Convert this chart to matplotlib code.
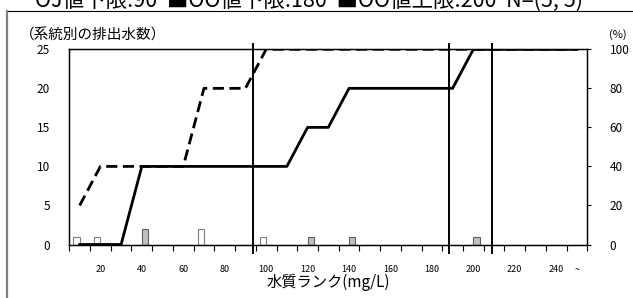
import numpy as np
import matplotlib
matplotlib.use('Agg')
import matplotlib.pyplot as plt
from matplotlib.lines import Line2D

plt.rcParams['font.family'] = ['Noto Sans CJK JP', 'DejaVu Sans']

# 水質ランク (mg/L), last class is "240 ~"
ranks = ['10', '20', '30', '40', '50', '60', '70', '80', '90', '100',
         '110', '120', '130', '140', '150', '160', '170', '180', '190', '200',
         '210', '220', '230', '240', '~']
# number of outlets per rank
count_white = [1, 1, 0, 0, 0, 0, 2, 0, 0, 1, 0, 0, 0, 0, 0, 0, 0, 0, 0, 0, 0, 0, 0, 0, 0]
count_gray = [0, 0, 0, 2, 0, 0, 0, 0, 0, 0, 0, 1, 0, 1, 0, 0, 0, 0, 0, 1, 0, 0, 0, 0, 0]
# cumulative share (%)
cum_white = [20, 40, 40, 40, 40, 40, 80, 80, 80, 100, 100, 100, 100, 100, 100, 100, 100,
             100, 100, 100, 100, 100, 100, 100, 100]
cum_gray = [0, 0, 0, 40, 40, 40, 40, 40, 40, 40, 40, 60, 60, 80, 80, 80, 80, 80, 80,
            100, 100, 100, 100, 100, 100]
# limit values drawn as vertical lines (secondary x axis)
limits = [90, 180, 200]
limit_axis = (5.6, 243.7)

title = 'OJ値下限:90  ■OO値下限:180  ■OO値上限:200  N=(5, 5)'

W, H = 633, 298
fig = plt.figure(figsize=(W / 100, H / 100), dpi=100)
ax = fig.add_axes([69.3 / W, 1 - 244.5 / H, 518 / W, 195.2 / H])

x = np.arange(len(ranks))
bw = 0.3
ax.bar(x - bw / 2, count_white, width=bw, color='white', edgecolor='#7f7f7f', linewidth=0.8, zorder=2)
ax.bar(x + bw / 2, count_gray, width=bw, color='#c0c0c0', edgecolor='#606060', linewidth=0.8, zorder=2)
ax.set_xlim(-0.5, len(ranks) - 0.5)
ax.set_ylim(0, 25)
ax.set_yticks(np.arange(0, 26, 5))
ax.tick_params(axis='y', length=0, pad=14, labelsize=8.5)

# category boundaries as tick marks, labels on every other class
ax.set_xticks(np.arange(-0.5, len(ranks), 1.0))
ax.set_xticklabels([])
ax.tick_params(axis='x', which='major', direction='out', length=4, width=0.8)
lab_pos = [i for i in range(len(ranks)) if i % 2 == 1 or ranks[i] == '~']
ax.set_xticks(lab_pos, minor=True)
ax.set_xticklabels([ranks[i] for i in lab_pos], minor=True)
ax.tick_params(axis='x', which='minor', length=0, pad=15, labelsize=6.5)
for s in ax.spines.values():
    s.set_linewidth(1.0)

ax2 = ax.twinx()
ax2.plot(x, cum_white, color='black', linestyle=(0, (4, 2)), linewidth=2.0, zorder=3)
ax2.plot(x, cum_gray, color='black', linestyle='-', linewidth=2.0, zorder=3)
ax2.set_ylim(0, 100)
ax2.set_yticks(np.arange(0, 101, 20))
ax2.tick_params(axis='y', direction='out', length=3, width=0.8, pad=13, labelsize=8.5)

ax3 = ax.twiny()
ax3.set_xlim(*limit_axis)
for v in limits:
    ax3.plot([v, v], [-1.12, 25.65], color='black', linewidth=1.4, clip_on=False)
ax3.set_xticks([])
for s in ax3.spines.values():
    s.set_visible(False)

ax.set_xlabel('水質ランク(mg/L)', fontsize=11)
ax.xaxis.set_label_coords(0.5, -0.15)
fig.text(20 / W, 1 - 36 / H, '（系統別の排出水数）', fontsize=10.5, va='center', ha='left')
fig.text(618 / W, 1 - 35 / H, '(%)', fontsize=8, va='center', ha='center')

# title (partly cut at the top edge, as in the source) and chart frame
fig.text(35 / W, 1 - 7 / H, title, fontsize=15.5, va='baseline', ha='left')
fig.add_artist(Line2D([7 / W, 1], [1 - 11 / H, 1 - 11 / H], color='black', linewidth=0.8))
fig.add_artist(Line2D([7 / W, 7 / W], [0, 1 - 11 / H], color='#808080', linewidth=1.6))

fig.savefig('out.png', dpi=100)
